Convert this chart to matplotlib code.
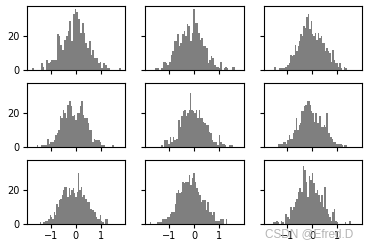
import numpy as np
import matplotlib
matplotlib.use("Agg")
import matplotlib.pyplot as plt

# bin counts (50 bins each), row by row
# (lo, hi) = range covered by the 50 bins of each panel
ranges = [(-1.76, 1.82), (-1.58, 1.64), (-1.52, 1.38),
          (-1.57, 1.53), (-1.32, 1.58), (-1.39, 1.40),
          (-1.43, 1.29), (-1.78, 1.34), (-1.58, 1.55)]

counts1 = [1, 0, 0, 0, 0, 4, 2, 0, 6, 4, 5, 6, 6, 6, 21, 20, 15, 12, 18, 20,
           23, 29, 17, 33, 36, 34, 30, 22, 28, 22, 16, 13, 17, 9, 12, 7, 7, 4, 5, 1,
           4, 3, 1, 1, 0, 0, 0, 0, 0, 1]
counts2 = [1, 1, 1, 0, 1, 5, 5, 4, 3, 5, 9, 11, 17, 17, 21, 14, 16, 21, 23, 20,
           27, 26, 17, 22, 36, 28, 28, 22, 18, 19, 14, 14, 13, 4, 6, 8, 7, 3, 2, 2,
           1, 5, 0, 1, 2, 1, 0, 0, 2, 2]
counts3 = [2, 0, 0, 1, 1, 1, 1, 2, 2, 3, 4, 9, 8, 9, 15, 11, 14, 17, 21, 20,
           26, 25, 31, 33, 24, 29, 21, 20, 22, 18, 22, 19, 20, 16, 16, 11, 13, 11, 10, 5,
           12, 6, 4, 4, 2, 4, 1, 0, 2, 1]
counts4 = [1, 0, 0, 1, 1, 1, 1, 5, 2, 3, 3, 4, 7, 8, 10, 18, 17, 22, 20, 17,
           25, 27, 24, 18, 19, 16, 20, 20, 24, 27, 19, 17, 17, 14, 10, 10, 3, 5, 4, 4,
           4, 3, 1, 1, 0, 0, 0, 0, 0, 1]
counts5 = [1, 0, 4, 4, 4, 2, 6, 3, 6, 4, 5, 5, 16, 12, 18, 21, 22, 18, 20, 22,
           32, 22, 21, 20, 22, 17, 22, 17, 17, 15, 14, 13, 13, 9, 8, 4, 3, 3, 3, 1,
           7, 3, 2, 2, 1, 0, 0, 1, 1, 1]
counts6 = [2, 2, 2, 2, 3, 3, 2, 4, 7, 5, 5, 8, 10, 17, 10, 13, 14, 21, 21, 24,
           25, 27, 27, 25, 21, 20, 15, 20, 14, 14, 18, 12, 12, 13, 12, 20, 8, 8, 6, 5,
           3, 3, 2, 2, 2, 2, 1, 0, 1, 1]
counts7 = [1, 0, 1, 1, 2, 2, 3, 5, 4, 3, 7, 5, 12, 10, 14, 15, 17, 20, 22, 22,
           16, 21, 17, 20, 21, 18, 16, 19, 30, 20, 22, 16, 17, 15, 15, 13, 13, 9, 8, 8,
           7, 4, 3, 3, 5, 2, 1, 0, 3, 3]
counts8 = [1, 0, 0, 0, 0, 1, 1, 1, 3, 3, 3, 4, 4, 6, 7, 7, 12, 18, 20, 18,
           19, 25, 24, 25, 25, 29, 23, 27, 30, 25, 21, 19, 17, 13, 14, 14, 8, 13, 7, 7,
           5, 7, 2, 2, 2, 3, 3, 3, 0, 3]
counts9 = [1, 1, 2, 1, 0, 2, 1, 0, 6, 4, 3, 10, 8, 10, 13, 15, 19, 21, 19, 34,
           32, 25, 16, 28, 26, 30, 24, 18, 20, 17, 13, 17, 10, 22, 9, 6, 4, 2, 7, 9,
           2, 1, 0, 0, 0, 0, 1, 0, 0, 2]

all_counts = [counts1, counts2, counts3, counts4, counts5,
              counts6, counts7, counts8, counts9]

plt.rcParams['font.size'] = 7

fig, axes = plt.subplots(3, 3, sharex=True, sharey=True, figsize=(3.68, 2.48), dpi=100)
plt.subplots_adjust(left=0.073, right=0.984, top=0.976, bottom=0.097, wspace=0.2, hspace=0.2)

for k, ax in enumerate(axes.flat):
    lo, hi = ranges[k]
    edges = np.linspace(lo, hi, 51)
    centers = (edges[:-1] + edges[1:]) / 2
    # same look as hist(..., color='k', alpha=0.5)
    ax.hist(centers, bins=edges, weights=all_counts[k], color='k', alpha=0.5)
    ax.tick_params(length=3, width=0.8, pad=2)

axes[0, 0].set_xticks([-1, 0, 1])
axes[0, 0].set_yticks([0, 20])

# watermark from the source image
fig.text(0.96, 0.03, "CSDN @Efred.D", ha='right', va='bottom',
         color='#b4b4b4', fontsize=8.5, family='Liberation Sans')

fig.savefig("out.png")
